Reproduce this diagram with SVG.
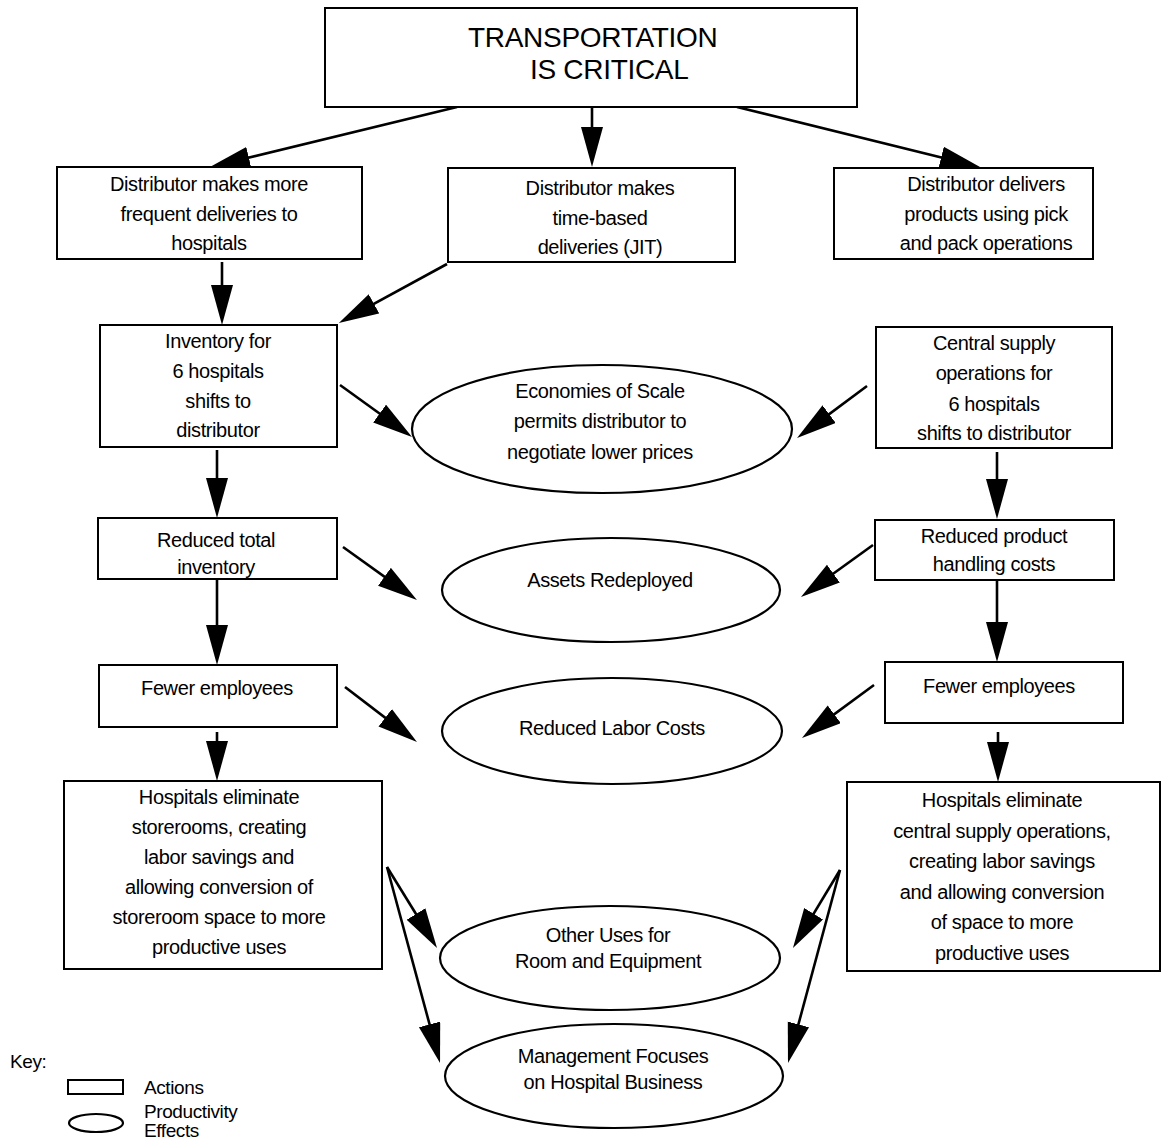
<svg xmlns="http://www.w3.org/2000/svg" width="1161" height="1146" viewBox="0 0 1161 1146">
<style>
  .box{fill:#fff;stroke:#000;stroke-width:2}
  .ell{fill:#fff;stroke:#000;stroke-width:2.2}
  .t{font-family:"Liberation Sans",Arial,sans-serif;font-size:20px;letter-spacing:-0.4px;fill:#000;text-anchor:middle}
  .title{font-family:"Liberation Sans",Arial,sans-serif;font-size:28px;letter-spacing:-0.3px;fill:#000}
  .k{font-family:"Liberation Sans",Arial,sans-serif;font-size:19px;letter-spacing:-0.4px;fill:#000}
  .c line{stroke:#000;stroke-width:2.6;marker-end:url(#ah)}
</style>
<defs>
  <marker id="ah" markerUnits="userSpaceOnUse" markerWidth="42" markerHeight="24" viewBox="0 0 42 24" refX="20" refY="11" orient="auto">
    <path d="M0,0 L40,11 L0,22 z" fill="#000"/>
  </marker>
</defs>
<rect width="1161" height="1146" fill="#fff"/>

<g class="c" id="connectors">
  <line x1="457" y1="107" x2="229.4" y2="162.3"/>
  <line x1="592" y1="107" x2="592" y2="147"/>
  <line x1="737" y1="107" x2="960.6" y2="162.2"/>
  <line x1="222" y1="262" x2="222" y2="305"/>
  <line x1="447" y1="264" x2="356.4" y2="313.4"/>
  <line x1="340" y1="385" x2="395.8" y2="425.3"/>
  <line x1="867" y1="386" x2="813.1" y2="426.1"/>
  <line x1="217" y1="450" x2="217" y2="498"/>
  <line x1="997" y1="452" x2="997" y2="499"/>
  <line x1="343" y1="547" x2="400.7" y2="588.4"/>
  <line x1="873" y1="545" x2="817.2" y2="585.3"/>
  <line x1="217" y1="580" x2="217" y2="645"/>
  <line x1="997" y1="581" x2="997" y2="642"/>
  <line x1="345" y1="687" x2="401.1" y2="729.9"/>
  <line x1="874" y1="685" x2="818.1" y2="726.1"/>
  <line x1="217" y1="732" x2="217" y2="761"/>
  <line x1="998" y1="732" x2="998" y2="762"/>
  <line x1="387" y1="867" x2="426.5" y2="931"/>
  <line x1="387" y1="867" x2="434.8" y2="1043.7"/>
  <line x1="840" y1="870" x2="803.3" y2="930.9"/>
  <line x1="840" y1="870" x2="793.2" y2="1043.7"/>
</g>

<g id="n-top">
  <rect class="box" x="325" y="8" width="532" height="99"/>
  <text class="title" x="468" y="47">TRANSPORTATION</text>
  <text class="title" x="530" y="79">IS CRITICAL</text>
</g>
<g id="n-frequent">
  <rect class="box" x="57" y="167" width="305" height="92"/>
  <text class="t" x="209" y="191">Distributor makes more</text>
  <text class="t" x="209" y="221">frequent deliveries to</text>
  <text class="t" x="209" y="250">hospitals</text>
</g>
<g id="n-timebased">
  <rect class="box" x="448" y="168" width="287" height="94"/>
  <text class="t" x="600" y="195">Distributor makes</text>
  <text class="t" x="600" y="225">time-based</text>
  <text class="t" x="600" y="254">deliveries (JIT)</text>
</g>
<g id="n-pickpack">
  <rect class="box" x="834" y="168" width="259" height="91"/>
  <text class="t" x="986" y="191">Distributor delivers</text>
  <text class="t" x="986" y="221">products using pick</text>
  <text class="t" x="986" y="250">and pack operations</text>
</g>
<g id="n-inventory">
  <rect class="box" x="100" y="325" width="237" height="122"/>
  <text class="t" x="218" y="348">Inventory for</text>
  <text class="t" x="218" y="378">6 hospitals</text>
  <text class="t" x="218" y="408">shifts to</text>
  <text class="t" x="218" y="437">distributor</text>
</g>
<g id="n-central">
  <rect class="box" x="876" y="327" width="236" height="121"/>
  <text class="t" x="994" y="350">Central supply</text>
  <text class="t" x="994" y="380">operations for</text>
  <text class="t" x="994" y="411">6 hospitals</text>
  <text class="t" x="994" y="440">shifts to distributor</text>
</g>
<g id="n-economies">
  <ellipse class="ell" cx="602" cy="429" rx="190" ry="64"/>
  <text class="t" x="600" y="398">Economies of Scale</text>
  <text class="t" x="600" y="428">permits distributor to</text>
  <text class="t" x="600" y="459">negotiate lower prices</text>
</g>
<g id="n-redtotal">
  <rect class="box" x="98" y="518" width="239" height="61"/>
  <text class="t" x="216" y="547">Reduced total</text>
  <text class="t" x="216" y="574">inventory</text>
</g>
<g id="n-redproduct">
  <rect class="box" x="875" y="520" width="239" height="60"/>
  <text class="t" x="994" y="543">Reduced product</text>
  <text class="t" x="994" y="571">handling costs</text>
</g>
<g id="n-assets">
  <ellipse class="ell" cx="611" cy="590" rx="169" ry="52"/>
  <text class="t" x="610" y="587">Assets Redeployed</text>
</g>
<g id="n-fewer-left">
  <rect class="box" x="99" y="665" width="238" height="62"/>
  <text class="t" x="217" y="695">Fewer employees</text>
</g>
<g id="n-fewer-right">
  <rect class="box" x="885" y="662" width="238" height="61"/>
  <text class="t" x="999" y="693">Fewer employees</text>
</g>
<g id="n-labor">
  <ellipse class="ell" cx="612" cy="731" rx="170" ry="53"/>
  <text class="t" x="612" y="735">Reduced Labor Costs</text>
</g>
<g id="n-hosp-left">
  <rect class="box" x="64" y="781" width="318" height="188"/>
  <text class="t" x="219" y="804">Hospitals eliminate</text>
  <text class="t" x="219" y="834">storerooms, creating</text>
  <text class="t" x="219" y="864">labor savings and</text>
  <text class="t" x="219" y="894">allowing conversion of</text>
  <text class="t" x="219" y="924">storeroom space to more</text>
  <text class="t" x="219" y="954">productive uses</text>
</g>
<g id="n-hosp-right">
  <rect class="box" x="847" y="782" width="313" height="189"/>
  <text class="t" x="1002" y="807">Hospitals eliminate</text>
  <text class="t" x="1002" y="838">central supply operations,</text>
  <text class="t" x="1002" y="868">creating labor savings</text>
  <text class="t" x="1002" y="899">and allowing conversion</text>
  <text class="t" x="1002" y="929">of space to more</text>
  <text class="t" x="1002" y="960">productive uses</text>
</g>
<g id="n-otheruses">
  <ellipse class="ell" cx="610" cy="958" rx="170" ry="52"/>
  <text class="t" x="608" y="942">Other Uses for</text>
  <text class="t" x="608" y="968">Room and Equipment</text>
</g>
<g id="n-management">
  <ellipse class="ell" cx="614" cy="1076" rx="169" ry="52"/>
  <text class="t" x="613" y="1063">Management Focuses</text>
  <text class="t" x="613" y="1089">on Hospital Business</text>
</g>

<g id="key">
  <text class="k" x="10" y="1068">Key:</text>
  <rect class="box" x="68" y="1080" width="55" height="14"/>
  <text class="k" x="144" y="1094">Actions</text>
  <ellipse class="ell" cx="96" cy="1123" rx="27" ry="9"/>
  <text class="k" x="144" y="1118">Productivity</text>
  <text class="k" x="144" y="1137">Effects</text>
</g>
</svg>
